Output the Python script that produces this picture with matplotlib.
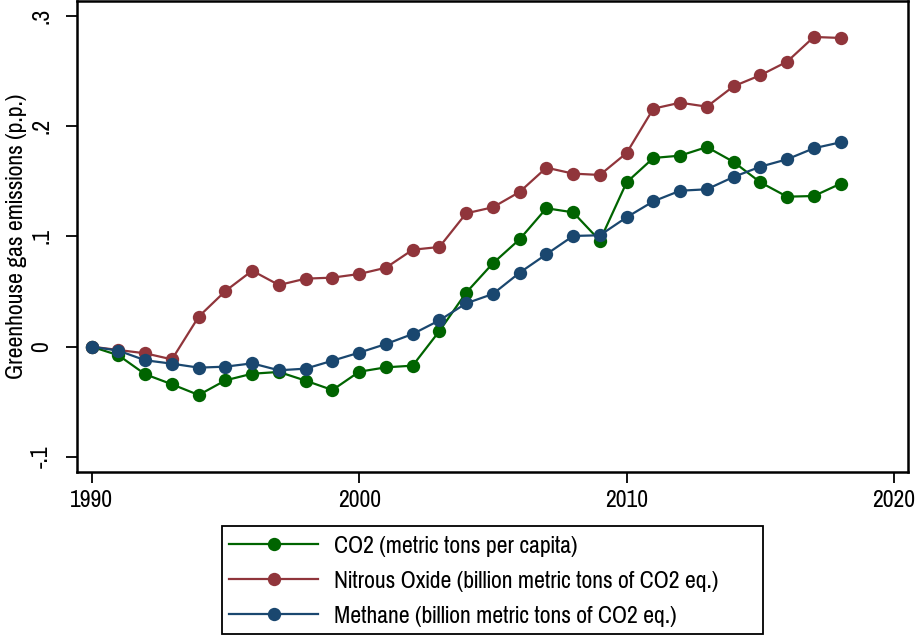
import matplotlib
matplotlib.use("Agg")
import matplotlib.pyplot as plt
from matplotlib.patches import Rectangle
from matplotlib import font_manager

years = list(range(1990, 2019))

co2 = [0.0, -0.0078, -0.025, -0.0341, -0.0438, -0.0305, -0.0245, -0.0229,
       -0.0308, -0.0393, -0.0227, -0.0187, -0.0172, 0.0142, 0.049, 0.0756,
       0.0974, 0.1255, 0.1218, 0.0961, 0.149, 0.1711, 0.1732, 0.181, 0.1675,
       0.149, 0.136, 0.1366, 0.1478]

nitrous = [0.0, -0.003, -0.006, -0.0115, 0.0272, 0.0505, 0.0689, 0.0559,
           0.0617, 0.0626, 0.0659, 0.0716, 0.0879, 0.0904, 0.1209, 0.1264,
           0.1403, 0.1623, 0.1569, 0.1557, 0.1756, 0.2158, 0.2212, 0.2176,
           0.2361, 0.2461, 0.2584, 0.2808, 0.2799]

methane = [0.0, -0.0036, -0.0123, -0.0154, -0.019, -0.0181, -0.0151, -0.0214,
           -0.0199, -0.0127, -0.0054, 0.0024, 0.0115, 0.0239, 0.0393, 0.0478,
           0.0671, 0.0838, 0.1004, 0.101, 0.1173, 0.1318, 0.1414, 0.1427,
           0.1539, 0.1632, 0.1699, 0.1799, 0.1853]

series_labels = ["CO2 (metric tons per capita)",
                 "Nitrous Oxide (billion metric tons of CO2 eq.)",
                 "Methane (billion metric tons of CO2 eq.)"]
series_colors = ["#006400", "#90353B", "#1A476F"]

x_ticks = [1990, 2000, 2010, 2020]
y_ticks = [-0.1, 0.0, 0.1, 0.2, 0.3]
y_tick_labels = ["-.1", "0", ".1", ".2", ".3"]
y_title = "Greenhouse gas emissions (p.p.)"

# narrow grotesque first, regular sans as fallback
installed = {f.name for f in font_manager.fontManager.ttflist}
candidates = ["Liberation Sans Narrow", "Arial Narrow", "Nimbus Sans Narrow",
              "Pragati Narrow", "Roboto Condensed", "Archivo Narrow"]
narrow = [f for f in candidates if f in installed][:1]
plt.rcParams["font.family"] = narrow + ["Liberation Sans", "DejaVu Sans"]
FS = 18.6 if narrow else 15

fig = plt.figure(figsize=(9.18, 6.39), dpi=100)
ax = fig.add_axes([77 / 918, 1 - 472 / 639, (908 - 77) / 918, (472 - 1) / 639])

handles = []
for vals, lab, col in zip([co2, nitrous, methane], series_labels, series_colors):
    h, = ax.plot(years, vals, color=col, lw=1.6, marker="o", markersize=9.6,
                 markeredgewidth=0, label=lab)
    handles.append(h)

ax.set_xlim(1989.45, 2020.52)
ax.set_ylim(-0.1136, 0.3134)
ax.set_xticks(x_ticks)
ax.set_xticklabels([str(t) for t in x_ticks], fontsize=FS)
ax.set_yticks(y_ticks)
ax.set_yticklabels(y_tick_labels, fontsize=FS, rotation=90, va="center")
ax.tick_params(axis="both", direction="out", length=8, width=1.3, color="black")
ax.tick_params(axis="x", pad=5)
ax.tick_params(axis="y", pad=10)
for s in ax.spines.values():
    s.set_linewidth(1.8)
    s.set_color("black")
ax.set_ylabel(y_title, fontsize=FS, labelpad=3)

# legend box below the plot
lx0, ly0, lx1, ly1 = 222 / 918, 1 - 634 / 639, 763 / 918, 1 - 526 / 639
fig.patches.append(Rectangle((lx0, ly0), lx1 - lx0, ly1 - ly0, transform=fig.transFigure,
                             fill=False, edgecolor="black", linewidth=1.3))
leg = fig.legend(handles=handles, labels=series_labels, loc="upper left",
                 bbox_to_anchor=(lx0 + 2 / 918, ly1 - 4 / 639), frameon=False,
                 fontsize=FS, handlelength=3.45, handletextpad=0.62,
                 labelspacing=0.5, borderpad=0.2, borderaxespad=0)

fig.savefig("out.png", dpi=100)
